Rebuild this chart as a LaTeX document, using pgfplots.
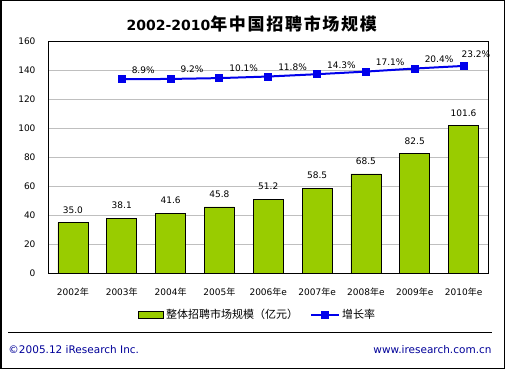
\documentclass[border=0pt]{standalone}
\usepackage{pgfplots}
\pgfplotsset{compat=1.18}
\usepackage{fontspec}
\setmainfont{DejaVu Sans}
\newfontfamily\cjk{Noto Sans CJK SC}
\newfontfamily\cjkt[LetterSpace=10]{Noto Sans CJK SC}
\definecolor{barg}{RGB}{153,204,0}
\definecolor{lineb}{RGB}{0,0,235}
\definecolor{footb}{RGB}{0,0,153}
\newcommand{\nian}{{\cjk 年}}
\begin{document}
\begin{tikzpicture}
\draw[black, line width=1.5pt, fill=white] (0.75pt,0.75pt) rectangle (504.25pt,368.25pt);
\path[use as bounding box] (0pt,0pt) rectangle (505pt,369pt);
% title
\node at (251.7pt,345pt) {\bfseries\fontsize{14}{16}\selectfont 2002-2010{\cjkt\bfseries\fontsize{17}{19}\selectfont 年中国招聘市场规模}};
\begin{axis}[
  at={(48.5pt,95.5pt)}, anchor=south west,
  scale only axis, width=439.5pt, height=232.5pt,
  xmin=-0.5, xmax=8.5, ymin=0, ymax=160,
  xtick={0,...,8},
  xticklabels={2002\nian,2003\nian,2004\nian,2005\nian,2006\nian e,2007\nian e,2008\nian e,2009\nian e,2010\nian e},
  ytick={0,20,...,160},
  ymajorgrids, grid style={color=black!25, line width=0.8pt},
  major tick length=0pt,
  axis line style={black, line width=0.8pt},
  tick label style={font=\fontsize{9}{10}\selectfont},
  /pgf/number format/assume math mode=true,
  yticklabel style={xshift=-9.5pt},
  xticklabel style={yshift=-11pt},
  clip=false,
]
\addplot[ybar, bar width=30pt, fill=barg, draw=black, line width=0.8pt,
  nodes near coords={\pgfmathprintnumber[fixed,fixed zerofill,precision=1,assume math mode=true]{\pgfplotspointmeta}},
  every node near coord/.append style={font=\fontsize{9}{10}\selectfont, anchor=south, inner sep=0pt, yshift=9pt, black}]
coordinates {(0,35.0) (1,38.1) (2,41.6) (3,45.8) (4,51.2) (5,58.5) (6,68.5) (7,82.5) (8,101.6)};
\end{axis}
\begin{axis}[
  at={(48.5pt,95.5pt)}, anchor=south west,
  scale only axis, width=439.5pt, height=232.5pt,
  xmin=-0.5, xmax=8.5, ymin=-200, ymax=50,
  hide axis, clip=false,
  legend columns=2,
  legend style={at={(0.476,-0.178)}, anchor=center, draw=none, fill=none,
    font=\cjk\fontsize{11}{12}\selectfont, inner sep=0pt,
    /tikz/every even column/.append style={column sep=10pt},
    nodes={inner sep=2pt}},
]
\addlegendimage{legend image code/.code={\draw[fill=barg,draw=black,line width=0.8pt] (0pt,-3.5pt) rectangle (25pt,3.5pt);}}
\addlegendentry{整体招聘市场规模（亿元）}
\addplot[lineb, line width=2pt, mark=square*, mark size=3pt,
  mark options={solid, fill=lineb, draw=lineb},
  legend image code/.code={\draw[lineb, line width=2pt] (0pt,0pt) -- (28pt,0pt); \fill[lineb] (11pt,-3pt) rectangle (17pt,3pt);},
  nodes near coords={\pgfmathprintnumber[fixed,fixed zerofill,precision=1,assume math mode=true]{\pgfplotspointmeta}\%},
  every node near coord/.append style={font=\fontsize{9}{10}\selectfont, anchor=south west, inner sep=0pt, xshift=9pt, yshift=5pt, black},
  coordinate style/.condition={x==8}{xshift=-12pt, yshift=2pt}]
coordinates {(1,8.9) (2,9.2) (3,10.1) (4,11.8) (5,14.3) (6,17.1) (7,20.4) (8,23.2)};
\addlegendentry{增长率}
\end{axis}
% separator and footer
\draw[black, line width=1pt] (8.3pt,36.7pt) -- (491.7pt,36.7pt);
\node[anchor=west, inner sep=0pt, text=footb, font=\fontsize{10.5}{12}\selectfont] at (8.3pt,19pt) {©2005.12 iResearch Inc.};
\node[anchor=east, inner sep=0pt, text=footb, font=\fontsize{10.5}{12}\selectfont] at (491.7pt,19pt) {www.iresearch.com.cn};
\end{tikzpicture}
\end{document}
